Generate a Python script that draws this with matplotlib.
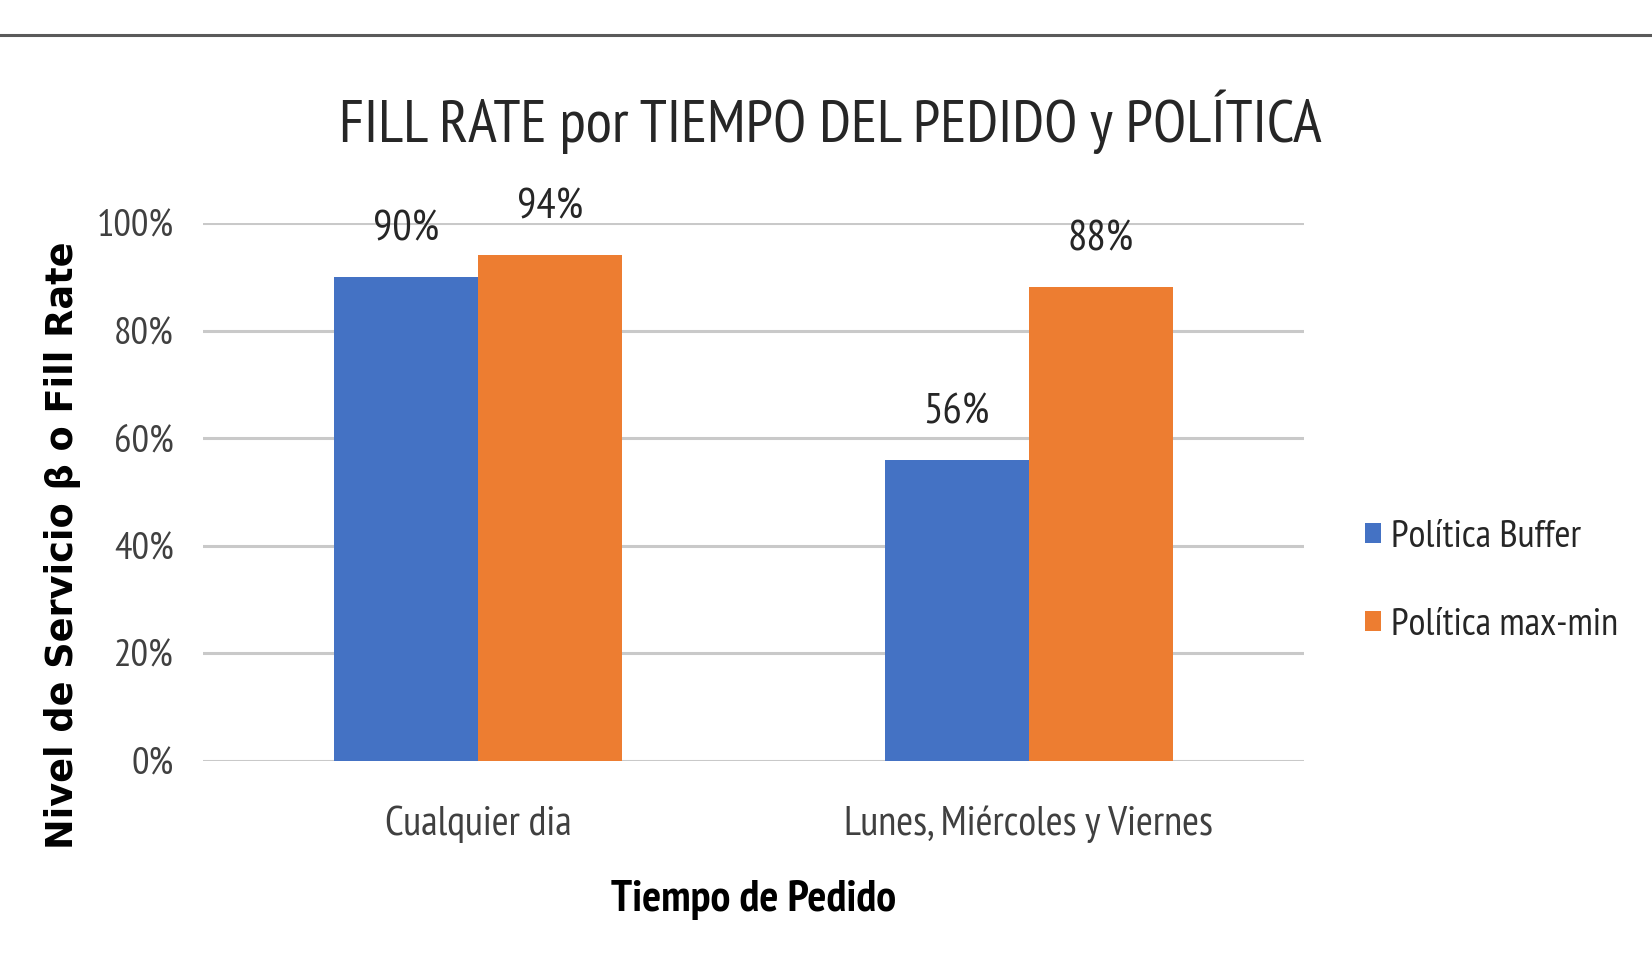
import numpy as np
import matplotlib
matplotlib.use("Agg")
import matplotlib.pyplot as plt
from matplotlib.lines import Line2D

# data
categories = ["Cualquier dia", "Lunes, Miércoles y Viernes"]
series_names = ["Política Buffer", "Política max-min"]
buffer_vals = [0.90, 0.56]
maxmin_vals = [0.94, 0.88]
yticks = [0.0, 0.2, 0.4, 0.6, 0.8, 1.0]

blue = "#4472C4"
orange = "#ED7D31"
narrow = ["PT Sans Narrow", "Carlito", "DejaVu Sans"]

fig = plt.figure(figsize=(16.52, 9.63), dpi=100)
ax = fig.add_axes([0.1229, 0.2098, 0.6665, 0.5587])

x = np.arange(len(categories))
w = 0.2616
b1 = ax.bar(x - w / 2, buffer_vals, w, color=blue, label=series_names[0], zorder=3)
b2 = ax.bar(x + w / 2, maxmin_vals, w, color=orange, label=series_names[1], zorder=3)

for bars, vals in [(b1, buffer_vals), (b2, maxmin_vals)]:
    for rect, v in zip(bars, vals):
        ax.annotate("%d%%" % round(v * 100), (rect.get_x() + rect.get_width() / 2, v),
                    xytext=(0, 34), textcoords="offset points", ha="center", va="center",
                    family=narrow, fontsize=31, color="#262626")

ax.set_xlim(-0.5, 1.5)
ax.set_ylim(0, 1.0)
ax.set_yticks(yticks)
ax.set_yticklabels(["%d%%" % round(t * 100) for t in yticks], family=narrow, fontsize=28, color="#404040")
ax.set_xticks(x)
ax.set_xticklabels(categories, family=narrow, fontsize=29.5, color="#404040")
ax.tick_params(axis="y", length=0, pad=21)
ax.tick_params(axis="x", length=0, pad=32)
ax.yaxis.grid(True, color="#c9c9c9", linewidth=2.2, zorder=0)
ax.set_axisbelow(True)
for s in ax.spines.values():
    s.set_visible(False)

ax.set_xlabel("Tiempo de Pedido", family=narrow, fontsize=32, fontweight="bold", color="black")
ax.xaxis.set_label_coords(0.5, -0.259)
ax.xaxis.label.set_va("center")
ax.set_ylabel("Nivel de Servicio β o Fill Rate", family="DejaVu Sans", fontsize=26.4, fontweight="bold", color="black")
ax.yaxis.set_label_coords(-0.1272, 0.4015)
ax.yaxis.label.set_va("center")

fig.text(0.5024, 0.8525, "FILL RATE por TIEMPO DEL PEDIDO y POLÍTICA", ha="center", va="baseline",
         family=narrow, fontsize=43.7, color="#262626")

fig.legend(handles=[b1, b2], loc="center left", bbox_to_anchor=(0.826, 0.396), frameon=False,
           prop={"family": narrow, "size": 28}, handlelength=0.42, handleheight=0.42,
           handletextpad=0.26, labelspacing=1.36, borderpad=0, borderaxespad=0, labelcolor="#262626")

# thin rule across the top of the page
fig.add_artist(Line2D([0, 1], [0.9632, 0.9632], transform=fig.transFigure, color="#5a5a5a", linewidth=2.2))

fig.savefig("out.png")
